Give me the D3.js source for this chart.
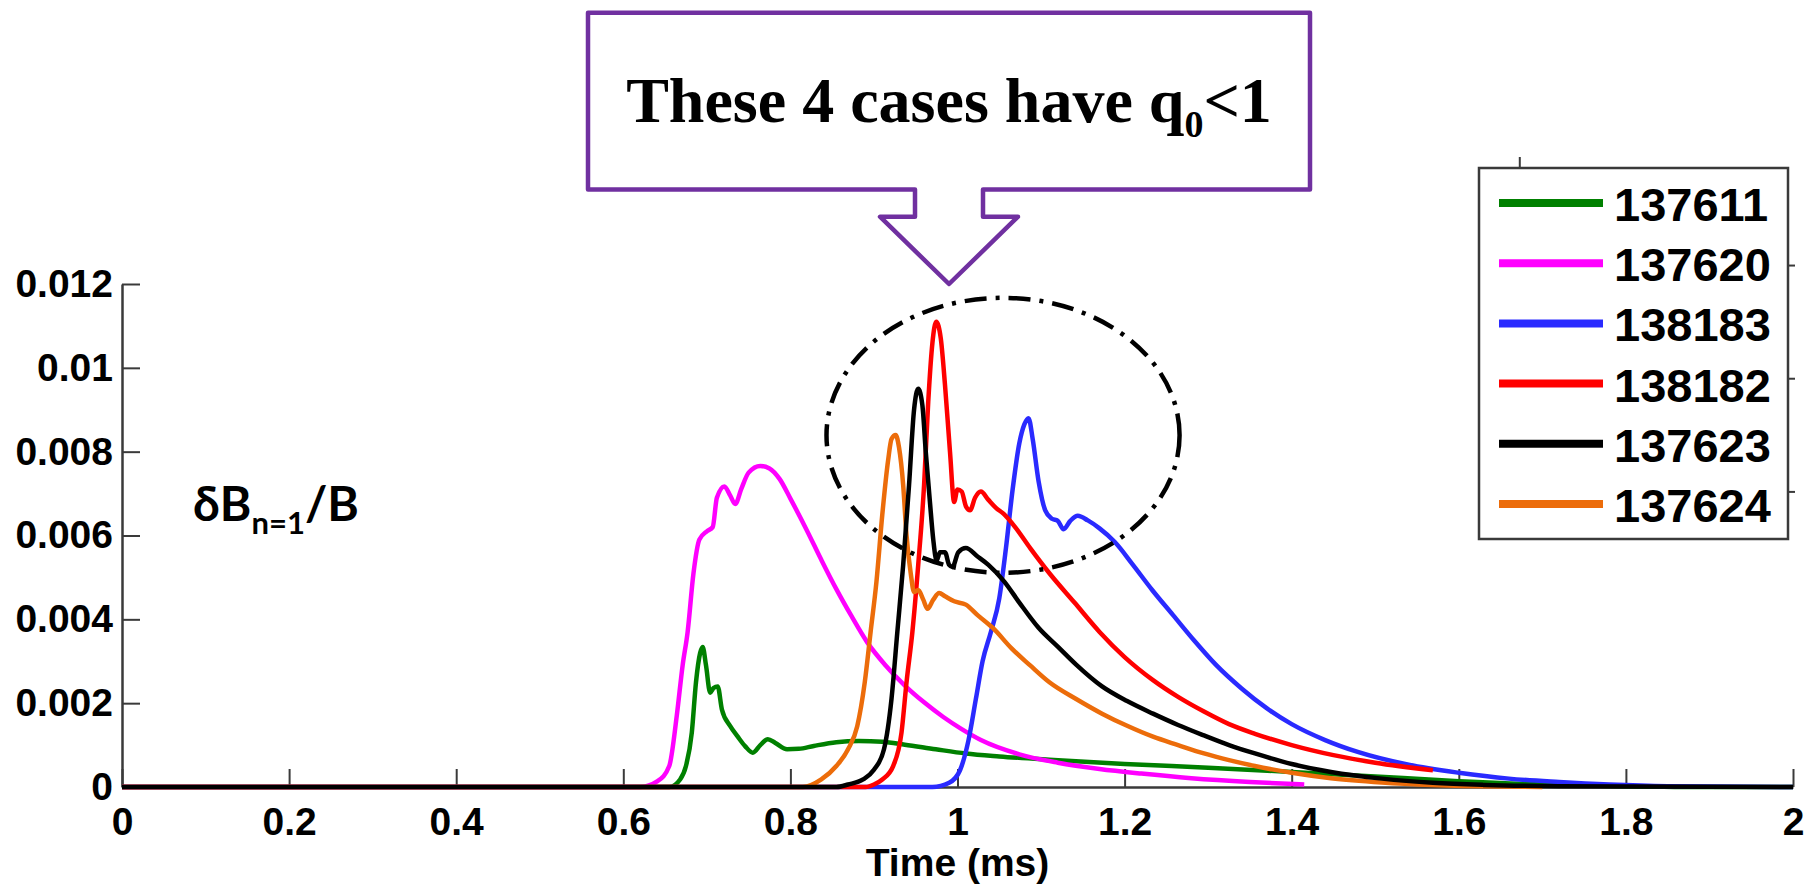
<!DOCTYPE html>
<html>
<head>
<meta charset="utf-8">
<script src="https://cdn.jsdelivr.net/npm/d3@7"></script>
<style>
  html, body { margin: 0; padding: 0; background: #fff; }
  svg { display: block; }
</style>
</head>
<body>
<div id="chart"></div>
<script>
// ---- data ----
let shots = ['137611', '137620', '138183', '138182', '137623', '137624'];
let colors = ['#008000', '#ff00ff', '#2a2aff', '#ff0000', '#000000', '#ec6c0a'];

let t137611 = [0, 0.655, 0.668, 0.675, 0.682, 0.687, 0.692, 0.695, 0.699, 0.704, 0.708, 0.713, 0.718, 0.728, 0.737, 0.746, 0.755, 0.764, 0.773, 0.782, 0.796, 0.81, 0.828, 0.855, 0.882, 0.91, 0.937, 0.974, 1.01, 1.05, 1.11, 1.2, 1.3, 1.4, 1.5, 1.6, 1.7, 1.8, 1.9, 2.0];
let v137611 = [0, 0, 0.00018, 0.0005, 0.0013, 0.0025, 0.0032, 0.00334, 0.0029, 0.00225, 0.00236, 0.0024, 0.00185, 0.00145, 0.0012, 0.00097, 0.00082, 0.001, 0.00114, 0.00105, 0.0009, 0.00091, 0.00098, 0.00107, 0.0011, 0.00108, 0.00101, 0.0009, 0.0008, 0.00073, 0.00065, 0.00055, 0.00046, 0.00036, 0.00025, 0.00014, 0.00006, 0.00002, 0, 0];

let t137620 = [0, 0.62, 0.641, 0.655, 0.664, 0.671, 0.677, 0.684, 0.691, 0.7, 0.707, 0.712, 0.721, 0.728, 0.734, 0.741, 0.75, 0.764, 0.775, 0.787, 0.8, 0.819, 0.837, 0.855, 0.873, 0.892, 0.914, 0.937, 0.96, 0.983, 1.005, 1.028, 1.074, 1.12, 1.17, 1.22, 1.28, 1.35, 1.415];
let v137620 = [0, 0, 0.00014, 0.0005, 0.0017, 0.0029, 0.0037, 0.0051, 0.0059, 0.0061, 0.0062, 0.0069, 0.00717, 0.00695, 0.00675, 0.0071, 0.0075, 0.00766, 0.0076, 0.00735, 0.00688, 0.00615, 0.00542, 0.00472, 0.00408, 0.00345, 0.0029, 0.00242, 0.00202, 0.00167, 0.00138, 0.00112, 0.00078, 0.00058, 0.00043, 0.00032, 0.00021, 0.00012, 0.00006];

let t138183 = [0, 0.97, 0.99, 1.003, 1.013, 1.022, 1.03, 1.04, 1.05, 1.058, 1.066, 1.074, 1.08, 1.085, 1.09, 1.097, 1.105, 1.113, 1.12, 1.127, 1.135, 1.144, 1.156, 1.17, 1.188, 1.21, 1.233, 1.258, 1.283, 1.31, 1.34, 1.37, 1.4, 1.44, 1.48, 1.54, 1.6, 1.66, 1.72, 1.78, 1.85, 2.0];
let v138183 = [0, 0, 0.0001, 0.0004, 0.0011, 0.0021, 0.003, 0.0037, 0.0045, 0.0057, 0.0071, 0.0082, 0.00865, 0.0088, 0.0083, 0.0073, 0.0066, 0.0064, 0.00635, 0.00615, 0.00635, 0.00647, 0.00636, 0.00617, 0.00585, 0.0053, 0.0047, 0.0041, 0.0035, 0.0029, 0.00235, 0.00188, 0.0015, 0.00112, 0.00083, 0.00053, 0.00034, 0.0002, 0.00012, 0.00006, 0.00002, 0];

let t138182 = [0, 0.89, 0.9, 0.91, 0.923, 0.933, 0.939, 0.946, 0.953, 0.96, 0.965, 0.97, 0.9745, 0.98, 0.985, 0.991, 0.996, 1.0, 1.005, 1.01, 1.015, 1.021, 1.028, 1.037, 1.046, 1.055, 1.069, 1.087, 1.11, 1.14, 1.17, 1.2, 1.234, 1.264, 1.295, 1.325, 1.356, 1.4, 1.45, 1.5, 1.569];
let v138182 = [0, 0, 0.00006, 0.00018, 0.0005, 0.0013, 0.0025, 0.0037, 0.0053, 0.0072, 0.0092, 0.0106, 0.0111, 0.0107, 0.0096, 0.008, 0.0068, 0.0071, 0.00705, 0.0067, 0.0066, 0.0069, 0.00705, 0.00685, 0.00666, 0.00652, 0.0062, 0.0057, 0.0051, 0.0044, 0.0037, 0.0031, 0.00255, 0.00215, 0.0018, 0.0015, 0.00127, 0.001, 0.00076, 0.00058, 0.0004];

let t137623 = [0, 0.855, 0.869, 0.887, 0.9, 0.912, 0.921, 0.928, 0.935, 0.942, 0.948, 0.953, 0.958, 0.962, 0.967, 0.971, 0.975, 0.979, 0.985, 0.99, 0.994, 1.001, 1.01, 1.024, 1.037, 1.056, 1.074, 1.097, 1.12, 1.142, 1.173, 1.203, 1.234, 1.264, 1.295, 1.325, 1.356, 1.4, 1.447, 1.508, 1.569, 1.63, 1.72, 2.0];
let v137623 = [0, 0, 0.00006, 0.00018, 0.00041, 0.0009, 0.0021, 0.0037, 0.0053, 0.0072, 0.009, 0.0095, 0.0091, 0.008, 0.0068, 0.0059, 0.0054, 0.0056, 0.0056, 0.0053, 0.00525, 0.0056, 0.0057, 0.0055, 0.0053, 0.0049, 0.0044, 0.0038, 0.00335, 0.00292, 0.0024, 0.00205, 0.00175, 0.00148, 0.00123, 0.001, 0.0008, 0.00055, 0.00036, 0.0002, 0.0001, 0.00005, 0.00002, 0];

let t137624 = [0, 0.815, 0.837, 0.855, 0.869, 0.88, 0.889, 0.896, 0.903, 0.91, 0.917, 0.921, 0.926, 0.93, 0.935, 0.939, 0.944, 0.948, 0.953, 0.959, 0.964, 0.971, 0.978, 0.985, 0.996, 1.01, 1.024, 1.042, 1.065, 1.087, 1.11, 1.142, 1.173, 1.203, 1.234, 1.264, 1.295, 1.325, 1.356, 1.4, 1.447, 1.508, 1.569, 1.65, 1.7];
let v137624 = [0, 0, 0.00018, 0.0005, 0.0009, 0.00145, 0.0025, 0.0037, 0.0049, 0.0065, 0.0078, 0.0083, 0.0084, 0.0081, 0.0072, 0.006, 0.0051, 0.00465, 0.0047, 0.00447, 0.00425, 0.00447, 0.00463, 0.00455, 0.00443, 0.00435, 0.0041, 0.0038, 0.0033, 0.0029, 0.0025, 0.0021, 0.00175, 0.00146, 0.0012, 0.001, 0.0008, 0.00064, 0.0005, 0.00034, 0.00021, 0.00011, 0.00005, 0.00001, 0];

let xTicks = [0, 0.2, 0.4, 0.6, 0.8, 1, 1.2, 1.4, 1.6, 1.8, 2];
let yTicks = [0, 0.002, 0.004, 0.006, 0.008, 0.01, 0.012];
// stray frame ticks left over in the picture
let rightTicks = [0.01244, 0.00974, 0.00704];
let topTicks = [1.673];

// ellipse round the q0<1 peaks, in data units
let ringCenter = [1.0545, 0.00839];
let ringRadius = [0.2113, 0.00328];

let drawOrder = [0, 1, 2, 3, 5, 4];

let series = [
    {t: t137611, v: v137611},
    {t: t137620, v: v137620},
    {t: t138183, v: v138183},
    {t: t138182, v: v138182},
    {t: t137623, v: v137623},
    {t: t137624, v: v137624}
].map((s, i) => ({
    name: shots[i],
    color: colors[i],
    points: s.t.map((t, j) => ({t: t, v: s.v[j]}))
}));

// ---- chart ----
let width = 1808,
    height = 886;

let svg = d3.select('#chart').append('svg')
    .attr('width', width)
    .attr('height', height);

let xScale = d3.scaleLinear().domain([0, 2]).range([122, 1793]);
let yScale = d3.scaleLinear().domain([0, 0.012]).range([787, 284]);

let fmt = d => String(+d.toFixed(4));
let tickFont = "'Liberation Sans', Arial, sans-serif";

let xAxis_g = svg.append('g')
    .attr('transform', `translate(0, ${yScale(0)})`)
    .call(d3.axisBottom(xScale)
        .tickValues(xTicks)
        .tickFormat(fmt)
        .tickSizeInner(-18)
        .tickSizeOuter(0)
        .tickPadding(20));

let yAxis_g = svg.append('g')
    .attr('transform', `translate(${xScale(0)}, 0)`)
    .call(d3.axisLeft(yScale)
        .tickValues(yTicks)
        .tickFormat(fmt)
        .tickSizeInner(-18)
        .tickSizeOuter(0)
        .tickPadding(9));

[xAxis_g, yAxis_g].forEach(g => {
    g.select('.domain').attr('stroke', '#3a3a3a').attr('stroke-width', 2.5);
    g.selectAll('.tick line').attr('stroke', '#3a3a3a').attr('stroke-width', 2);
    g.selectAll('.tick text')
        .attr('fill', '#000')
        .style('font-family', tickFont)
        .style('font-weight', 'bold')
        .style('font-size', '39px');
});

// leftover frame ticks
svg.append('g').selectAll('line.rtick')
    .data(rightTicks)
    .join('line')
    .attr('class', 'rtick')
    .attr('x1', xScale(2) - 6)
    .attr('x2', xScale(2) + 2)
    .attr('y1', d => yScale(d))
    .attr('y2', d => yScale(d))
    .attr('stroke', '#3a3a3a')
    .attr('stroke-width', 2);

svg.append('g').selectAll('line.ttick')
    .data(topTicks)
    .join('line')
    .attr('class', 'ttick')
    .attr('x1', d => xScale(d))
    .attr('x2', d => xScale(d))
    .attr('y1', 157)
    .attr('y2', 168)
    .attr('stroke', '#3a3a3a')
    .attr('stroke-width', 2);

// curves
let line = d3.line()
    .x(d => xScale(d.t))
    .y(d => yScale(d.v))
    .curve(d3.curveMonotoneX);

svg.append('g').attr('class', 'curves')
    .selectAll('path')
    .data(drawOrder.map(i => series[i]))
    .join('path')
    .attr('d', d => line(d.points))
    .attr('fill', 'none')
    .attr('stroke', d => d.color)
    .attr('stroke-width', 4.5)
    .attr('stroke-linejoin', 'round');

// dash-dot ellipse
svg.append('ellipse')
    .attr('cx', xScale(ringCenter[0]))
    .attr('cy', yScale(ringCenter[1]))
    .attr('rx', xScale(ringRadius[0]) - xScale(0))
    .attr('ry', yScale(0) - yScale(ringRadius[1]))
    .attr('fill', 'none')
    .attr('stroke', '#000')
    .attr('stroke-width', 4.5)
    .attr('stroke-dasharray', '22 9 4 9');

// y label
let yLabel = svg.append('text')
    .attr('x', 193)
    .attr('y', 521)
    .style('font-family', "Lato, 'Open Sans', sans-serif")
    .style('font-weight', 'bold')
    .style('font-size', '48px')
    .attr('fill', '#000');
yLabel.append('tspan').text('\u03b4B');
yLabel.append('tspan').attr('dy', 13).style('font-size', '31px').text('n=1');
yLabel.append('tspan').attr('dy', -13).text('/B');

// x label
svg.append('text')
    .attr('x', (xScale(0) + xScale(2)) / 2)
    .attr('y', 876)
    .attr('text-anchor', 'middle')
    .style('font-family', tickFont)
    .style('font-weight', 'bold')
    .style('font-size', '39px')
    .text('Time (ms)');

// legend
let legend_g = svg.append('g').attr('class', 'legend');
legend_g.append('rect')
    .attr('x', 1479)
    .attr('y', 168)
    .attr('width', 309)
    .attr('height', 371)
    .attr('fill', '#fff')
    .attr('stroke', '#3a3a3a')
    .attr('stroke-width', 2.5);

let rows = legend_g.selectAll('g.row')
    .data(series)
    .join('g')
    .attr('class', 'row')
    .attr('transform', (d, i) => `translate(0, ${203 + i * 60.2})`);

rows.append('line')
    .attr('x1', 1499)
    .attr('x2', 1603)
    .attr('stroke', d => d.color)
    .attr('stroke-width', 8);

rows.append('text')
    .attr('x', 1614)
    .attr('y', 18)
    .style('font-family', tickFont)
    .style('font-weight', 'bold')
    .style('font-size', '47px')
    .text(d => d.name);

// callout arrow box
let box = {l: 588, r: 1310, t: 12.7, b: 189.5, sl: 915, sr: 983, sh: 216.7, hl: 880, hr: 1018, tipX: 949, tipY: 284};
let callout = d3.path();
callout.moveTo(box.l, box.t);
callout.lineTo(box.r, box.t);
callout.lineTo(box.r, box.b);
callout.lineTo(box.sr, box.b);
callout.lineTo(box.sr, box.sh);
callout.lineTo(box.hr, box.sh);
callout.lineTo(box.tipX, box.tipY);
callout.lineTo(box.hl, box.sh);
callout.lineTo(box.sl, box.sh);
callout.lineTo(box.sl, box.b);
callout.lineTo(box.l, box.b);
callout.closePath();

svg.append('path')
    .attr('d', callout.toString())
    .attr('fill', '#fff')
    .attr('stroke', '#7030a0')
    .attr('stroke-width', 4.5)
    .attr('stroke-linejoin', 'round');

let note = svg.append('text')
    .attr('x', (box.l + box.r) / 2)
    .attr('y', 122)
    .attr('text-anchor', 'middle')
    .style('font-family', "'Liberation Serif', 'Times New Roman', serif")
    .style('font-weight', 'bold')
    .style('font-size', '64px')
    .attr('fill', '#000');
note.append('tspan').text('These 4 cases have q');
note.append('tspan').attr('dy', 15).style('font-size', '38px').text('0');
note.append('tspan').attr('dy', -15).text('<1');
</script>
</body>
</html>
